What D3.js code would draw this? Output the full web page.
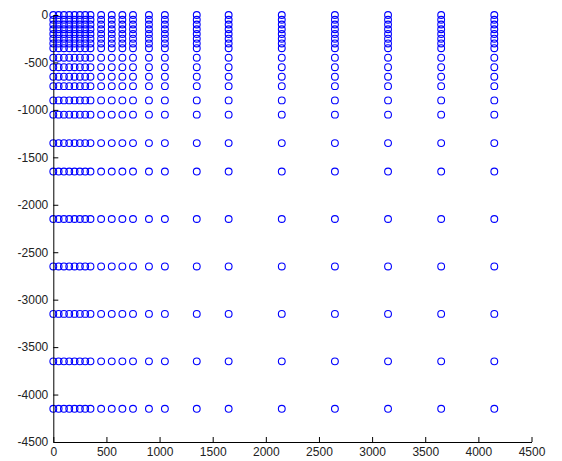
<!DOCTYPE html>
<html>
<head>
<meta charset="utf-8">
<script src="https://cdn.jsdelivr.net/npm/d3@7"></script>
<style>
  body { margin: 0; background: #fff; }
  svg text { font-family: "Liberation Sans", Arial, sans-serif; font-size: 12px; fill: #222; }
</style>
</head>
<body>
<script>
// grid values (same vector used for x and for -y)
var xValues = [0, 50, 100, 150, 200, 250, 300, 350, 450, 550, 650, 750, 900, 1050,
  1350, 1650, 2150, 2650, 3150, 3650, 4150];
var yValues = [0, -50, -100, -150, -200, -250, -300, -350, -450, -550, -650, -750, -900, -1050,
  -1350, -1650, -2150, -2650, -3150, -3650, -4150];
var xTicks = [0, 500, 1000, 1500, 2000, 2500, 3000, 3500, 4000, 4500];
var yTicks = [0, -500, -1000, -1500, -2000, -2500, -3000, -3500, -4000, -4500];

window.addEventListener('load', function () {
  var svg = d3.select('body').append('svg')
    .attr('width', 562)
    .attr('height', 461);

  var x = d3.scaleLinear().domain([0, 4500]).range([53.3, 531.5]);
  var y = d3.scaleLinear().domain([-4500, 0]).range([442, 15]);

  var points = [];
  for (var i = 0; i < yValues.length; i++) {
    for (var j = 0; j < xValues.length; j++) {
      points.push({x: xValues[j], y: yValues[i]});
    }
  }

  svg.append('g').selectAll('circle')
    .data(points)
    .enter()
    .append('circle')
    .attr('cx', function(d){ return x(d.x); })
    .attr('cy', function(d){ return y(d.y); })
    .attr('r', 3.4)
    .style('fill', 'none')
    .style('stroke', '#0000ff')
    .style('stroke-width', 1.1);

  var fmt = function(d){ return String(d); };
  var xAxis = svg.append('g')
    .attr('transform', 'translate(0,' + y(-4500) + ')')
    .call(d3.axisBottom(x).tickValues(xTicks).tickFormat(fmt).tickSizeInner(-5).tickSizeOuter(0).tickPadding(5));
  var yAxis = svg.append('g')
    .attr('transform', 'translate(' + x(0) + ',0)')
    .call(d3.axisLeft(y).tickValues(yTicks).tickFormat(fmt).tickSizeInner(-5).tickSizeOuter(0).tickPadding(5));

  [xAxis, yAxis].forEach(function(a){
    a.attr('font-family', null).attr('font-size', null);
    a.select('.domain').style('stroke', '#000');
    a.selectAll('.tick line').style('stroke', '#000');
  });
});
</script>
</body>
</html>
